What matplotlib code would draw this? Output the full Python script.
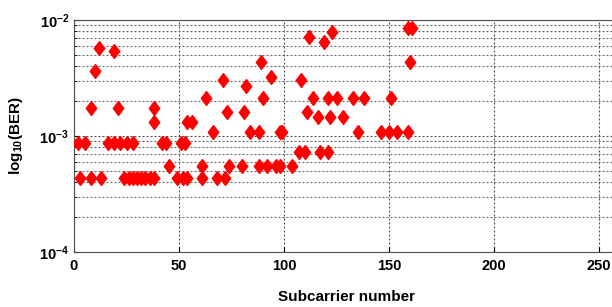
import matplotlib
matplotlib.use('Agg')
import matplotlib.pyplot as plt
from matplotlib.ticker import LogLocator, NullFormatter, MultipleLocator

plt.rcParams['font.family'] = 'Liberation Sans'
plt.rcParams['font.weight'] = 'bold'
plt.rcParams['mathtext.fontset'] = 'custom'
plt.rcParams['mathtext.rm'] = 'Liberation Sans:bold'
plt.rcParams['mathtext.default'] = 'rm'

# subcarrier index and its BER
subcarrier = [3, 8, 13, 24, 26, 28, 30, 32, 34, 36, 38, 49, 52, 54, 61, 68, 72,
              45, 61, 74, 80, 88, 92, 96, 98, 104,
              107, 110, 117, 121,
              2, 5, 16, 19, 22, 25, 28, 42, 44, 51, 53,
              66, 84, 88, 98, 99, 135, 146, 150, 154, 159,
              38, 54, 56,
              116, 122, 128,
              73, 81, 111,
              8, 21, 38,
              63, 90, 114, 121, 125, 133, 138, 151,
              82, 71, 108, 94, 10, 89, 160, 19, 12, 119, 112, 123, 159, 161]
ber = ([4.35e-4] * 17 +
       [5.5e-4] * 9 +
       [7.3e-4] * 4 +
       [8.7e-4] * 11 +
       [1.08e-3] * 10 +
       [1.32e-3] * 3 +
       [1.46e-3] * 3 +
       [1.61e-3] * 3 +
       [1.74e-3] * 3 +
       [2.13e-3] * 8 +
       [2.7e-3, 3.05e-3, 3.05e-3, 3.2e-3, 3.6e-3, 4.35e-3, 4.35e-3,
        5.4e-3, 5.7e-3, 6.45e-3, 7.1e-3, 7.9e-3, 8.5e-3, 8.5e-3])

diamond = [(0, 1), (0.75, 0), (0, -1), (-0.75, 0), (0, 1)]

fig = plt.figure(figsize=(6.12, 3.07), dpi=100)
ax = fig.add_axes([74 / 612, 1 - 252 / 307, 546 / 612, 232 / 307])

ax.semilogy(subcarrier, ber, linestyle='none', marker=diamond,
            markersize=10, color='red', markeredgecolor='red', zorder=3)

ax.set_xlim(0, 260)
ax.set_ylim(1e-4, 1e-2)
ax.xaxis.set_major_locator(MultipleLocator(50))
ax.yaxis.set_major_locator(LogLocator(base=10))
ax.yaxis.set_minor_locator(LogLocator(base=10, subs=range(2, 10)))
ax.yaxis.set_minor_formatter(NullFormatter())

ax.grid(True, which='major', linestyle=(0, (1.8, 1.8)), color='0.3', linewidth=0.8)
ax.grid(True, which='minor', axis='y', linestyle=(0, (1.8, 1.8)), color='0.4', linewidth=0.8)
ax.set_axisbelow(True)

ax.tick_params(axis='both', which='both', direction='in', labelsize=10.5)
ax.tick_params(axis='x', pad=5)
for s in ax.spines.values():
    s.set_color('0.3')

ax.set_xlabel('Subcarrier number', fontsize=11, fontweight='bold', labelpad=12)
ax.set_ylabel('log$_{10}$(BER)', fontsize=11, fontweight='bold', labelpad=10)

plt.savefig('out.png', dpi=100)
